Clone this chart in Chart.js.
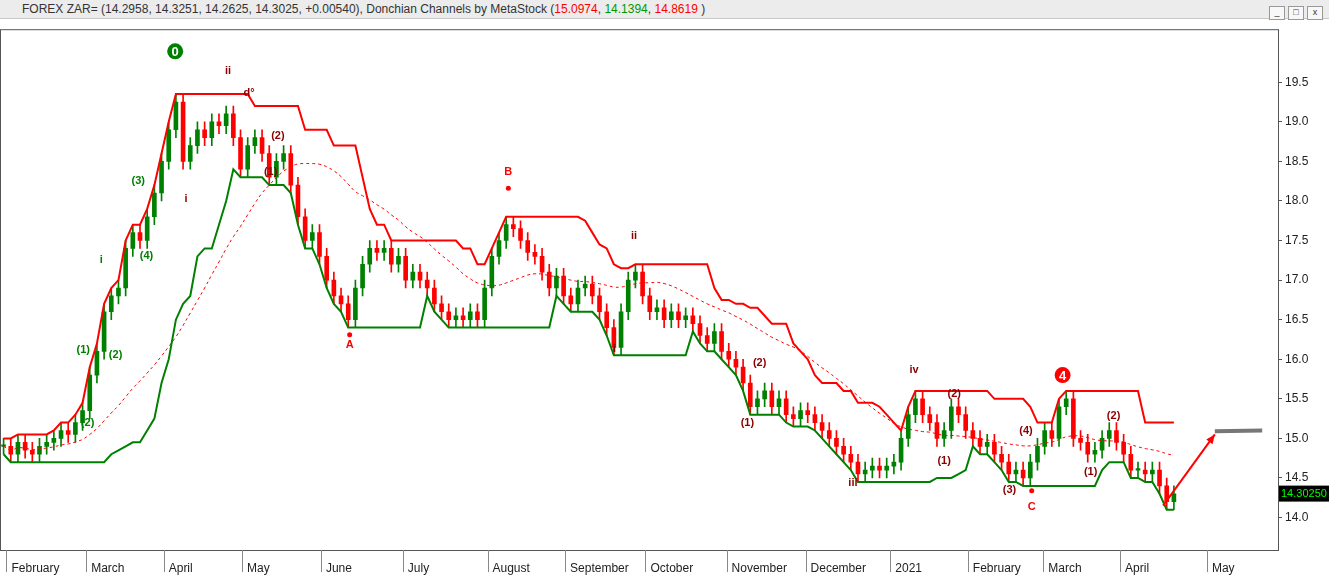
<!DOCTYPE html>
<html>
<head>
<meta charset="utf-8">
<script src="https://cdn.jsdelivr.net/npm/chart.js@4"></script>
<style>
body { margin:0; width:1329px; height:575px; overflow:hidden; background:#fff; font-family:"Liberation Sans", Arial, sans-serif; }
#hdr { height:18px; background:#ececec; border-bottom:1px solid #c8c8c8; font-size:12px; line-height:18px; padding-left:22px; color:#333; position:relative; }
#hdr .r { color:#ff0000; } #hdr .g { color:#009900; }
#btns { position:absolute; right:6px; top:2px; }
#btns span { display:inline-block; width:14px; height:12px; border:1px solid #999; margin-left:3px; background:#f8f8f8; font-size:9px; line-height:11px; text-align:center; }
#wrap { position:relative; width:1329px; height:556px; }
</style>
</head>
<body>
<div id="hdr">FOREX ZAR= (14.2958, 14.3251, 14.2625, 14.3025, +0.00540), Donchian Channels by MetaStock (<span class="r">15.0974</span>, <span class="g">14.1394</span>, <span class="r">14.8619</span> )
<div id="btns"><span>_</span><span>□</span><span>x</span></div></div>
<div id="wrap"><canvas id="myChart" width="1329" height="556"></canvas></div>
<script>
// closes, roughly every 2 trading days
const closes = [
 14.9,14.8,14.95,14.85,14.8,14.9,14.95,15.0,15.1,15.05,15.2,15.35,15.8,16.1,16.6,16.8,16.9,17.4,17.6,17.5,
 17.8,18.1,18.5,18.9,19.25,18.5,18.7,18.9,18.8,19.0,18.95,19.1,18.8,18.4,18.7,18.8,18.6,18.3,18.5,18.6,
 18.2,17.8,17.5,17.6,17.3,17.0,16.8,16.7,16.5,16.9,17.2,17.4,17.35,17.4,17.2,17.3,17.0,17.1,17.0,16.9,
 16.7,16.6,16.5,16.55,16.5,16.6,16.5,16.9,17.3,17.5,17.7,17.65,17.5,17.35,17.3,17.1,16.9,17.05,16.8,16.7,
 16.9,16.95,16.8,16.6,16.4,16.15,16.6,17.0,17.1,16.8,16.6,16.65,16.5,16.6,16.5,16.55,16.45,16.3,16.2,16.35,
 16.1,16.0,15.9,15.7,15.4,15.5,15.6,15.4,15.5,15.3,15.25,15.35,15.3,15.2,15.1,15.0,14.9,14.8,14.7,14.55,
 14.6,14.65,14.6,14.65,14.7,15.0,15.3,15.5,15.3,15.2,15.0,15.1,15.4,15.3,15.1,15.0,14.9,14.95,14.8,14.7,
 14.55,14.6,14.5,14.7,14.9,15.1,15.0,15.4,15.5,15.0,14.95,14.8,14.85,15.0,15.1,14.95,14.8,14.6,14.6,14.55,
 14.6,14.4,14.2,14.3
];
const monthNames = ['February','March','April','May','June','July','August','September','October','November','December','2021','February','March','April','May'];
const monthPos = [0.4,11.5,22.3,33.2,44.2,55.6,67.4,78.2,89.4,100.7,111.7,123.5,134.3,144.8,155.5,167.6];
const yTicks = [14.0,14.5,15.0,15.5,16.0,16.5,17.0,17.5,18.0,18.5,19.0,19.5];
const waveLabels = [
 {i:23.9,p:19.89,t:'0',c:'#008000',circ:true},{i:147.5,p:15.80,t:'4',c:'#ff0000',circ:true},
 {i:48.2,p:16.18,t:'A',c:'#ff0000'},{i:70.3,p:18.36,t:'B',c:'#ff0000'},{i:143.2,p:14.13,t:'C',c:'#ff0000'},
 {i:11.1,p:16.12,t:'(1)',c:'#008000'},{i:11.7,p:15.2,t:'(2)',c:'#008000'},{i:15.6,p:16.05,t:'(2)',c:'#008000'},
 {i:18.75,p:18.25,t:'(3)',c:'#008000'},{i:19.9,p:17.3,t:'(4)',c:'#008000'},{i:13.6,p:17.26,t:'i',c:'#008000'},
 {i:38.2,p:18.82,t:'(2)',c:'#8b0000'},{i:37.2,p:18.36,t:'(1)',c:'#8b0000'},{i:34.2,p:19.37,t:'d°',c:'#8b0000'},
 {i:31.25,p:19.64,t:'ii',c:'#8b0000'},{i:25.4,p:18.02,t:'i',c:'#8b0000'},{i:87.8,p:17.56,t:'ii',c:'#8b0000'},
 {i:85.1,p:16.13,t:'i',c:'#8b0000'},{i:118.3,p:14.44,t:'iii',c:'#8b0000'},{i:126.8,p:15.87,t:'iv',c:'#8b0000'},
 {i:103.6,p:15.2,t:'(1)',c:'#8b0000'},{i:105.3,p:15.95,t:'(2)',c:'#8b0000'},{i:131,p:14.72,t:'(1)',c:'#8b0000'},
 {i:132.4,p:15.56,t:'(2)',c:'#8b0000'},{i:140.1,p:14.35,t:'(3)',c:'#8b0000'},{i:142.4,p:15.09,t:'(4)',c:'#8b0000'},
 {i:151.4,p:14.57,t:'(1)',c:'#8b0000'},{i:154.6,p:15.28,t:'(2)',c:'#8b0000'}
];
const markDots = [{i:48.2,p:16.31},{i:70.3,p:18.16},{i:143.2,p:14.34}];

// candles: open = previous close, wicks a little outside the body
const opens = closes.map((c, i) => i ? closes[i-1] : c);
const highs = closes.map((c, i) => Math.max(c, opens[i]) + 0.1);
const lows = closes.map((c, i) => Math.min(c, opens[i]) - 0.1);
const per = 10;
const upper = [], lower = [], mid = [];
closes.forEach((c, i) => {
	const s = Math.max(0, i - per + 1);
	upper.push({x:i, y:Math.max(...highs.slice(s, i+1))});
	lower.push({x:i, y:Math.min(...lows.slice(s, i+1))});
	const m = Math.max(0, i - 24);
	const sl = closes.slice(m, i+1);
	mid.push({x:i, y:sl.reduce((a,b)=>a+b,0)/sl.length});
});
const bodies = closes.map((c, i) => ({x:i, y:[opens[i], c === opens[i] ? c + 0.02 : c]}));
const wicks = closes.map((c, i) => ({x:i, y:[lows[i], highs[i]]}));
const candleCol = closes.map((c, i) => c >= opens[i] ? '#008000' : '#ff0000');

const overlay = {
	id:'overlay',
	afterDraw(chart) {
		const {ctx, scales:{x, y}, chartArea:a} = chart;
		ctx.save();
		// frame
		ctx.strokeStyle = '#555'; ctx.lineWidth = 1;
		ctx.strokeRect(a.left+0.5, a.top+0.5, a.right-a.left, a.bottom-a.top);
		// month separators
		ctx.strokeStyle = '#888';
		monthPos.forEach(p => { const px = Math.round(x.getPixelForValue(p))+0.5; ctx.beginPath(); ctx.moveTo(px, a.bottom); ctx.lineTo(px, a.bottom+22); ctx.stroke(); });
		// wave labels
		ctx.font = 'bold 11px "Liberation Sans", Arial'; ctx.textAlign = 'center'; ctx.textBaseline = 'middle';
		waveLabels.forEach(l => {
			const px = x.getPixelForValue(l.i), py = y.getPixelForValue(l.p);
			if (l.circ) {
				ctx.fillStyle = l.c; ctx.beginPath(); ctx.arc(px, py, 8, 0, Math.PI*2); ctx.fill();
				ctx.fillStyle = '#fff'; ctx.font = 'bold 13px "Liberation Sans", Arial'; ctx.fillText(l.t, px, py+1);
				ctx.font = 'bold 11px "Liberation Sans", Arial';
			} else { ctx.fillStyle = l.c; ctx.fillText(l.t, px, py); }
		});
		ctx.fillStyle = '#ff0000';
		markDots.forEach(d => { ctx.beginPath(); ctx.arc(x.getPixelForValue(d.i), y.getPixelForValue(d.p), 2.5, 0, Math.PI*2); ctx.fill(); });
		// arrow and target line
		const x1 = x.getPixelForValue(161.5), y1 = y.getPixelForValue(14.15);
		const x2 = x.getPixelForValue(168.7), y2 = y.getPixelForValue(15.05);
		ctx.strokeStyle = '#ff0000'; ctx.lineWidth = 2;
		ctx.beginPath(); ctx.moveTo(x1, y1); ctx.lineTo(x2, y2); ctx.stroke();
		const ang = Math.atan2(y2-y1, x2-x1);
		ctx.beginPath(); ctx.moveTo(x2, y2);
		ctx.lineTo(x2 - 10*Math.cos(ang-0.4), y2 - 10*Math.sin(ang-0.4));
		ctx.lineTo(x2 - 10*Math.cos(ang+0.4), y2 - 10*Math.sin(ang+0.4)); ctx.closePath(); ctx.fill();
		ctx.strokeStyle = '#777'; ctx.lineWidth = 4;
		ctx.beginPath(); ctx.moveTo(x2, y.getPixelForValue(15.09)); ctx.lineTo(x.getPixelForValue(175.3), y.getPixelForValue(15.1)); ctx.stroke();
		// last price tag
		const ty = y.getPixelForValue(14.3025);
		ctx.fillStyle = '#000'; ctx.fillRect(a.right+1, ty-8, 50, 16);
		ctx.fillStyle = '#00ff00'; ctx.font = '11px "Liberation Sans", Arial'; ctx.textAlign = 'left';
		ctx.fillText('14.30250', a.right+3, ty);
		ctx.restore();
	}
};

new Chart(document.getElementById('myChart').getContext('2d'), {
	type:'bar',
	data:{ datasets:[
		{type:'line', data:upper, borderColor:'#ff0000', borderWidth:2, pointRadius:0, order:1},
		{type:'line', data:lower, borderColor:'#008000', borderWidth:2, pointRadius:0, order:1},
		{type:'line', data:mid, borderColor:'#ff0000', borderWidth:1, borderDash:[3,3], pointRadius:0, tension:0.4, order:1},
		{data:wicks, backgroundColor:candleCol, barThickness:1, grouped:false, order:2},
		{data:bodies, backgroundColor:candleCol, barThickness:4, grouped:false, order:2}
	]},
	options:{
		responsive:false, animation:false,
		layout:{padding:{top:0, left:0, right:0}},
		plugins:{legend:{display:false}, tooltip:{enabled:false}},
		scales:{
			x:{type:'linear', min:-0.5, max:177.5, offset:false,
				grid:{display:false}, border:{display:false},
				afterBuildTicks:s => { s.ticks = monthPos.map(v => ({value:v})); },
				afterFit:s => { s.height = 25; },
				ticks:{align:'start', labelOffset:5, padding:3, color:'#222', font:{size:12, family:'"Liberation Sans", Arial'},
					callback:(v, i) => monthNames[i]}},
			y:{position:'right', min:13.59, max:20.17,
				grid:{drawOnChartArea:false, tickLength:4, color:'#555'}, border:{display:false},
				afterBuildTicks:s => { s.ticks = yTicks.map(v => ({value:v})); },
				afterFit:s => { s.width = 51; },
				ticks:{color:'#222', font:{size:12, family:'"Liberation Sans", Arial'}, callback:v => v.toFixed(1)}}
		}
	},
	plugins:[overlay]
});
</script>
</body>
</html>
